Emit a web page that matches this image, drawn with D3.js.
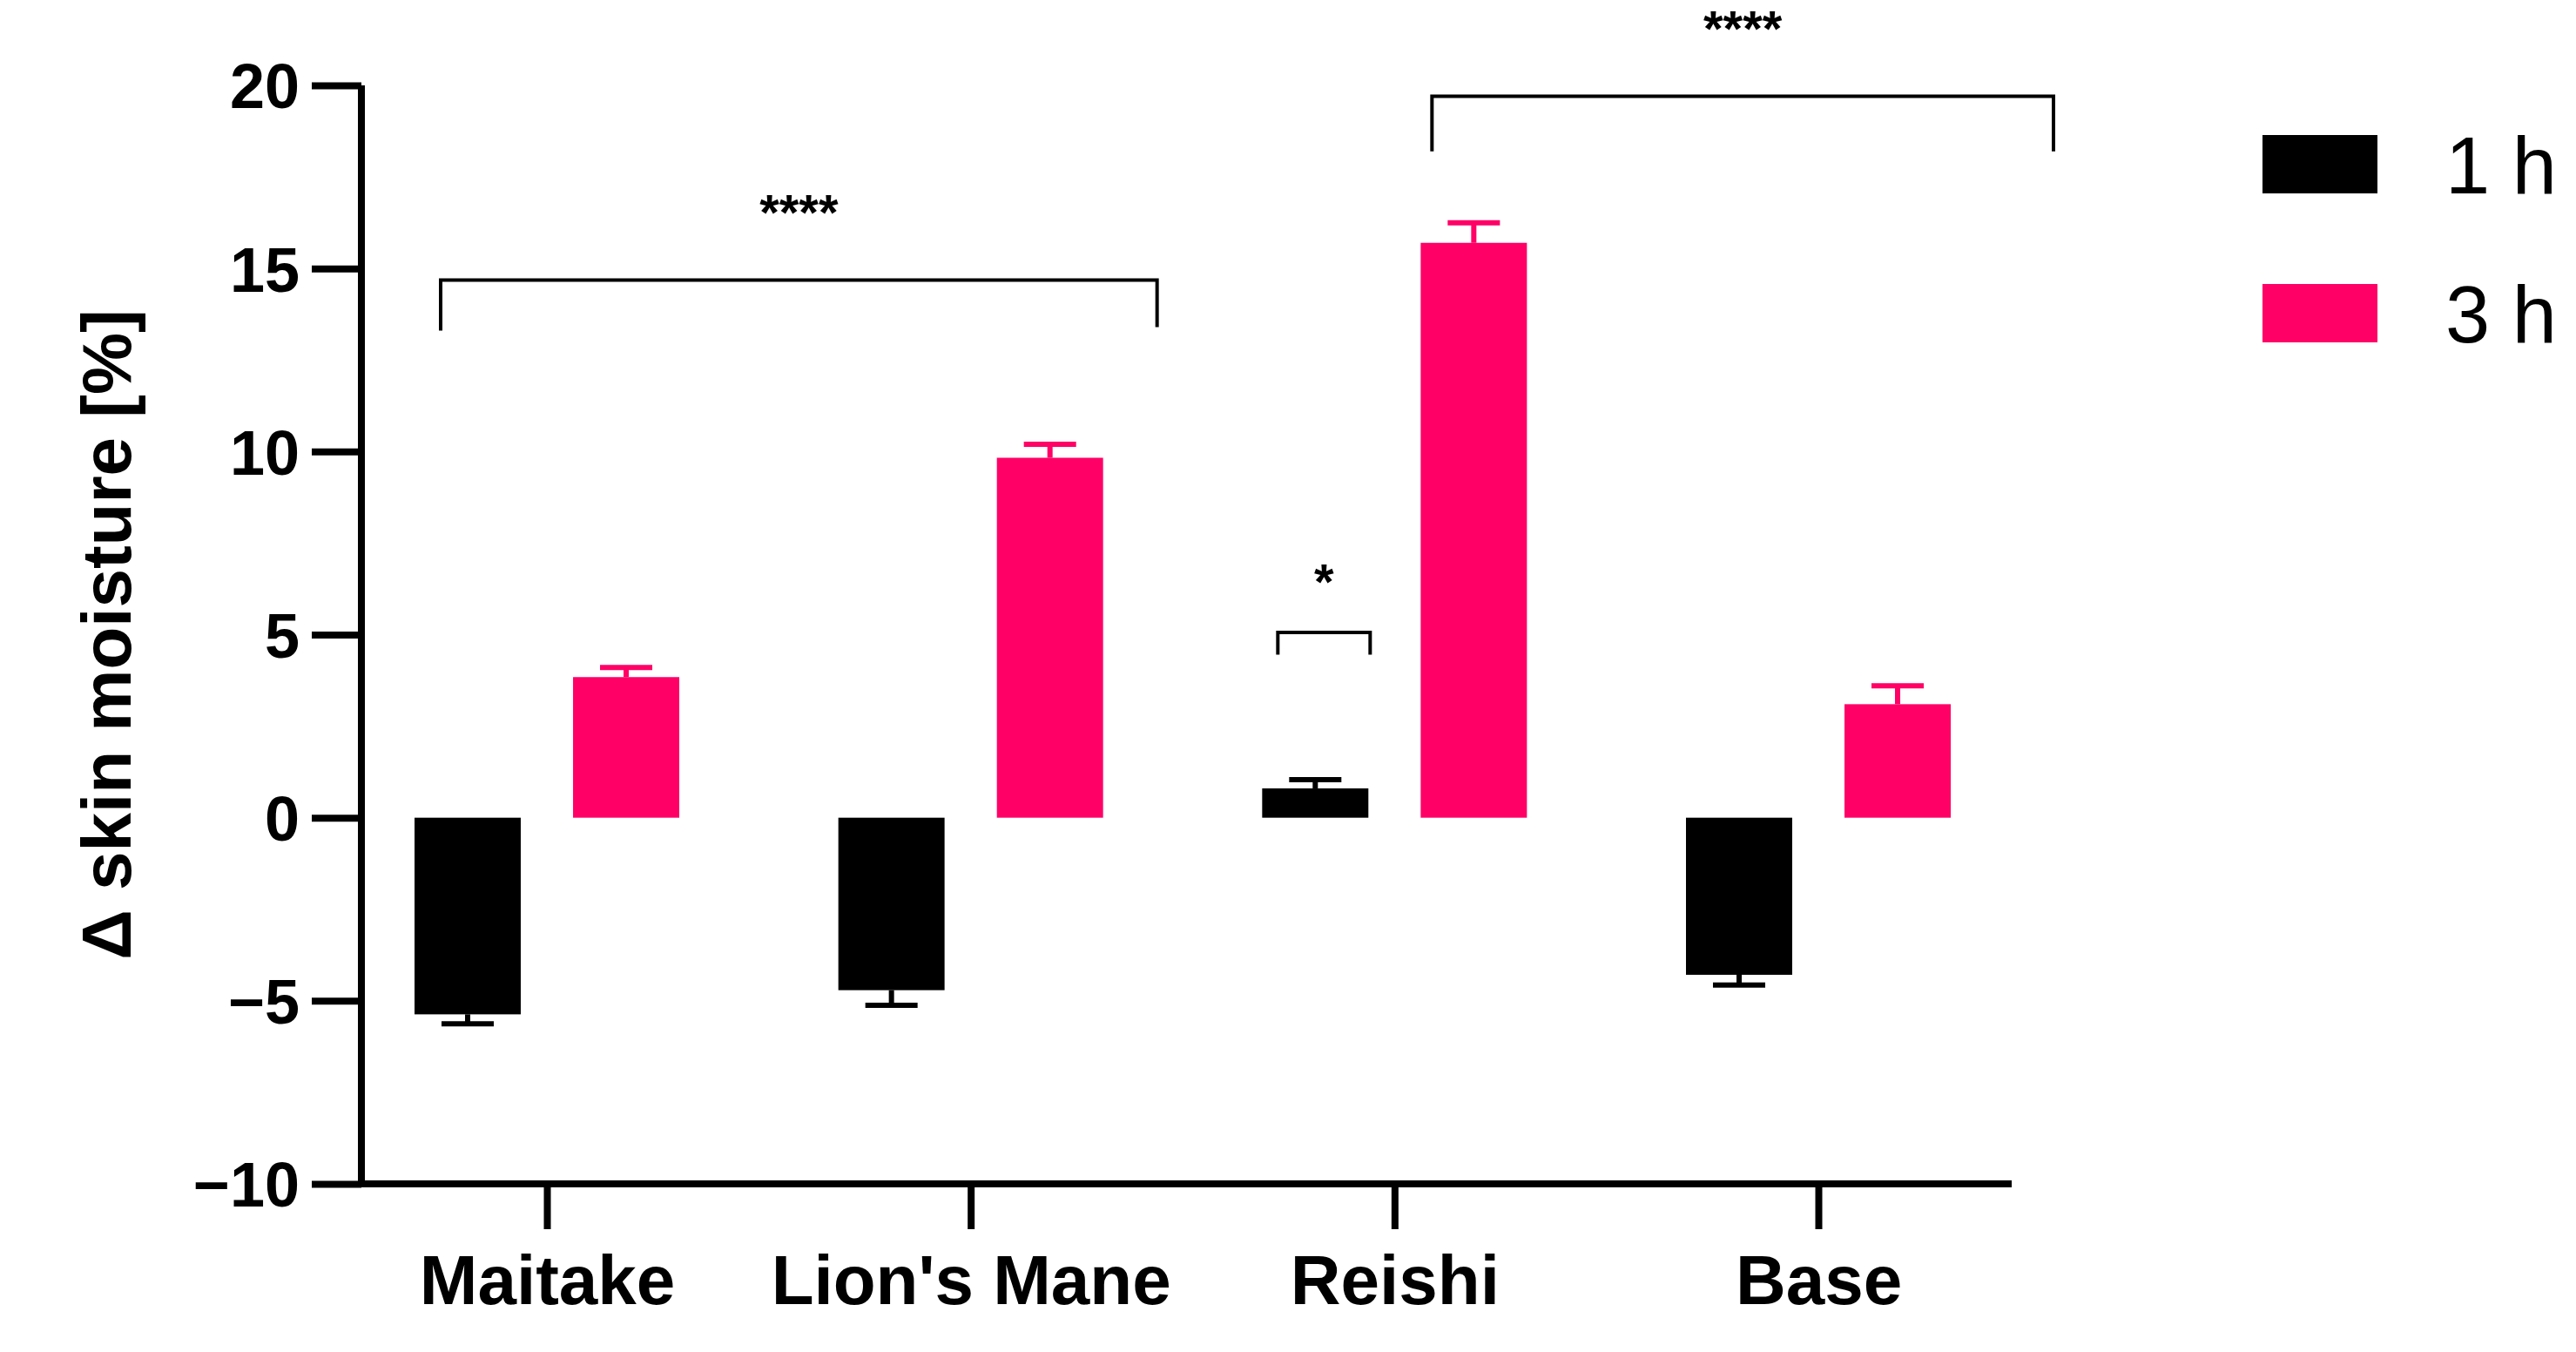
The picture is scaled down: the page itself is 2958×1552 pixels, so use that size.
<!DOCTYPE html><html><head><meta charset="utf-8"><script src="https://cdn.jsdelivr.net/npm/d3@7"></script>
<style>body{margin:0;background:#fff}</style></head><body><svg id="c" width="2958" height="1552"></svg>
<script>
const categories=["Maitake","Lion's Mane","Reishi","Base"];
const series=["1 h","3 h"];
const mean1h=[-5.37,-4.71,0.8,-4.29];
const err1h=[-5.63,-5.12,1.04,-4.57];
const mean3h=[3.84,9.83,15.7,3.1];
const err3h=[4.1,10.2,16.25,3.6];
const yTicks=[-10,-5,0,5,10,15,20];
const colors=["#000000","#FF0066"];
const brackets=[{a:[0,0],b:[1,1],y:14.68,la:13.3,lb:13.4,label:"****"},{a:[2,1],b:[3,1],y:19.7,la:18.2,lb:18.2,label:"****"},{a:[2,0],b:[2,0],y:5.06,la:4.45,lb:4.45,label:"*"}];

const svg=d3.select("#c");
const y=d3.scaleLinear().domain([-10,20]).range([1359,98]);
const x=d3.scalePoint().domain(categories).range([628,2088]);
const xi=d3.scaleBand().domain(series).range([-152,152]).paddingInner(0.33);
const sw=8;
// y axis
const ya=svg.append("g").attr("transform","translate(415,0)").call(d3.axisLeft(y).tickValues(yTicks).tickSize(57).tickPadding(14).tickFormat(d=>d<0?"\u2212"+(-d):d));
ya.select(".domain").attr("stroke-width",sw).attr("d","M0,"+(y(20))+"V"+(y(-10)+4));
ya.selectAll(".tick line").attr("stroke-width",sw);
ya.selectAll("text").attr("font-family","Arial, Liberation Sans").attr("font-weight","bold").attr("font-size",72).attr("fill","#000").attr("dy","0.36em");
// x axis
const xa=svg.append("g").attr("transform","translate(0,"+y(-10)+")").call(d3.axisBottom(x).tickSize(52).tickPadding(22));
xa.select(".domain").attr("stroke-width",sw).attr("d","M411,0H2310");
xa.selectAll(".tick line").attr("stroke-width",sw);
xa.selectAll("text").attr("font-family","Arial, Liberation Sans").attr("font-weight","bold").attr("font-size",80).attr("fill","#000").attr("dy","0.8em");
// y title
svg.append("text").attr("transform","translate(150,"+y(5)+") rotate(-90)").attr("text-anchor","middle")
 .attr("font-family","Arial, Liberation Sans").attr("font-weight","bold").attr("font-size",80).text("\u0394 skin moisture [%]");
// bars
const means=[mean1h,mean3h], errs=[err1h,err3h];
series.forEach((s,si)=>{
 categories.forEach((c,ci)=>{
  const v=means[si][ci], e=errs[si][ci];
  const cx=x(c)+xi(s)+xi.bandwidth()/2;
  svg.append("line").attr("x1",cx).attr("x2",cx).attr("y1",y(v)).attr("y2",y(e)).attr("stroke",colors[si]).attr("stroke-width",6);
  svg.append("line").attr("x1",cx-30).attr("x2",cx+30).attr("y1",y(e)).attr("y2",y(e)).attr("stroke",colors[si]).attr("stroke-width",6);
  svg.append("rect").attr("x",x(c)+xi(s)).attr("width",xi.bandwidth()).attr("y",y(Math.max(0,v))).attr("height",Math.abs(y(v)-y(0))).attr("fill",colors[si]);
 });
});
// brackets
const bx=(p)=>x(categories[p[0]])+xi(series[p[1]])+xi.bandwidth()/2;
brackets.forEach((b,i)=>{
 let x1=bx(b.a),x2=bx(b.b);
 if(i===0){x1=x(categories[0])-122;x2=x(categories[1])+214;}
 if(i===1){x1=x(categories[2])+43;x2=x(categories[3])+270;}
 if(i===2){x1=x(categories[2])-134;x2=x(categories[2])-28;}
 svg.append("path").attr("d",`M${x1},${y(b.la)}V${y(b.y)}H${x2}V${y(b.lb)}`).attr("fill","none").attr("stroke","#000").attr("stroke-width",4);
 svg.append("text").attr("x",(x1+x2)/2).attr("y",y(b.y)-(i===2?38:58)).attr("text-anchor","middle").attr("font-family","Arial, Liberation Sans").attr("font-weight","bold").attr("font-size",58).text(b.label);
});
// legend
series.forEach((s,i)=>{
 const yy=155+i*171;
 svg.append("rect").attr("x",2598).attr("y",yy).attr("width",132).attr("height",67).attr("fill",colors[i]);
 svg.append("text").attr("x",2808).attr("y",yy+34).attr("dy","0.36em").attr("font-family","Arial, Liberation Sans").attr("font-size",92).text(s);
});
</script></body></html>
